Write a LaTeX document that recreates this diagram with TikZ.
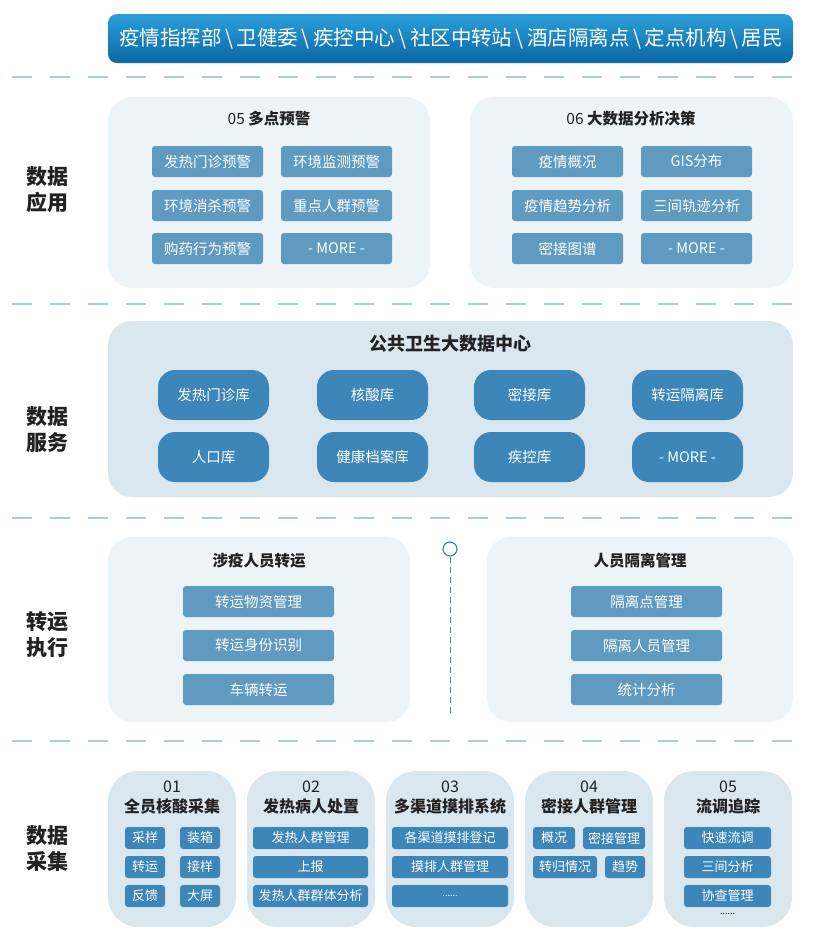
\documentclass[tikz,border=0pt]{standalone}
\usepackage{fontspec}
\setmainfont{Noto Sans CJK SC}
\usetikzlibrary{positioning}
\definecolor{bandtop}{HTML}{2C9FDA}
\definecolor{bandbot}{HTML}{0A67A6}
\definecolor{paneA}{HTML}{EDF4F8}
\definecolor{paneB}{HTML}{DAE7EF}
\definecolor{boxA}{HTML}{5F9BC0}
\definecolor{boxB}{HTML}{3C86BA}
\definecolor{sepline}{HTML}{A9C9E5}
\definecolor{txt}{HTML}{222222}

\begin{document}
\begin{tikzpicture}[x=1pt, y=-1pt,
    panel/.style={fill=#1, draw=none, rounded corners=24pt},
    appbox/.style={fill=boxA, text=white, rounded corners=3pt, minimum width=111pt,
        minimum height=31pt, inner sep=0pt, font=\fontsize{14.5}{16}\selectfont},
    svcbox/.style={fill=boxB, text=white, rounded corners=17pt, minimum width=111pt,
        minimum height=50pt, inner sep=0pt, font=\fontsize{14.5}{16}\selectfont},
    tbox/.style={fill=boxA, text=white, rounded corners=3pt, minimum width=151pt,
        minimum height=31pt, inner sep=0pt, font=\fontsize{14.5}{16}\selectfont},
    cbox/.style={fill=boxB, text=white, rounded corners=3pt, minimum height=22pt,
        inner sep=0pt, font=\fontsize{13}{15}\selectfont},
    ptitle/.style={text=txt, font=\fontsize{15.5}{17}\selectfont},
    side/.style={text=txt, align=center, font=\fontsize{21}{26}\selectfont\bfseries},
    sep/.style={sepline, line width=1.2pt, dash pattern=on 20pt off 18pt}]
    \useasboundingbox (0,0) rectangle (815,948);

    % Top band
    \shade[top color=bandtop, bottom color=bandbot, rounded corners=9pt] (108,14) rectangle (793,63);
    \node[text=white, font=\fontsize{20.5}{22}\selectfont] (users) at (451,38.5)
        {疫情指挥部\,\textbackslash\,卫健委\,\textbackslash\,疾控中心\,\textbackslash\,社区中转站\,\textbackslash\,酒店隔离点\,\textbackslash\,定点机构\,\textbackslash\,居民};

    % Separators
    \foreach \y in {77,304,518,741}
        \draw[sep] (12,\y) -- (793,\y);

    % Side labels
    \node[side] (lapp) at (47,190) {数据\\应用};
    \node[side] (lsvc) at (47,430) {数据\\服务};
    \node[side] (ltra) at (47,635) {转运\\执行};
    \node[side] (lcol) at (47,848) {数据\\采集};

    % Data application
    \fill[panel=paneA] (108,97) rectangle (430,288);
    \fill[panel=paneA] (470,97) rectangle (793,288);
    \node[ptitle] (warn) at (269,119) {05 \textbf{多点预警}};
    \node[ptitle] (bigd) at (631,119) {06 \textbf{大数据分析决策}};
    \node[appbox] (w1) at (207.5,161.5) {发热门诊预警};
    \node[appbox] (w2) at (336.5,161.5) {环境监测预警};
    \node[appbox] (w3) at (207.5,205.5) {环境消杀预警};
    \node[appbox] (w4) at (336.5,205.5) {重点人群预警};
    \node[appbox] (w5) at (207.5,248.5) {购药行为预警};
    \node[appbox] (w6) at (336.5,248.5) {- MORE -};
    \node[appbox] (d1) at (567.5,161.5) {疫情概况};
    \node[appbox] (d2) at (696.5,161.5) {GIS分布};
    \node[appbox] (d3) at (567.5,205.5) {疫情趋势分析};
    \node[appbox] (d4) at (696.5,205.5) {三间轨迹分析};
    \node[appbox] (d5) at (567.5,248.5) {密接图谱};
    \node[appbox] (d6) at (696.5,248.5) {- MORE -};

    % Data service
    \fill[panel=paneB] (108,321) rectangle (793,497);
    \node[ptitle, font=\fontsize{18}{20}\selectfont\bfseries] (center) at (450.5,344) {公共卫生大数据中心};
    \node[svcbox] (s1) at (213.5,395) {发热门诊库};
    \node[svcbox] (s2) at (372.5,395) {核酸库};
    \node[svcbox] (s3) at (529.5,395) {密接库};
    \node[svcbox] (s4) at (687.5,395) {转运隔离库};
    \node[svcbox] (s5) at (213.5,457) {人口库};
    \node[svcbox] (s6) at (372.5,457) {健康档案库};
    \node[svcbox] (s7) at (529.5,457) {疾控库};
    \node[svcbox] (s8) at (687.5,457) {- MORE -};

    % Transport
    \fill[panel=paneA] (108,537) rectangle (410,722);
    \fill[panel=paneA] (487,537) rectangle (793,722);
    \node[ptitle, font=\fontsize{15.5}{17}\selectfont\bfseries] (move) at (259,561) {涉疫人员转运};
    \node[ptitle, font=\fontsize{15.5}{17}\selectfont\bfseries] (iso) at (640,561) {人员隔离管理};
    \node[tbox] (t1) at (258.5,601.5) {转运物资管理};
    \node[tbox] (t2) at (258.5,645.5) {转运身份识别};
    \node[tbox] (t3) at (258.5,689.5) {车辆转运};
    \node[tbox] (i1) at (646.5,601.5) {隔离点管理};
    \node[tbox] (i2) at (646.5,645.5) {隔离人员管理};
    \node[tbox] (i3) at (646.5,689.5) {统计分析};
    \node[circle, draw=boxB, line width=1.2pt, fill=white, minimum size=14pt, inner sep=0pt] (dot) at (450,549) {};
    \coordinate (dotend) at (450,716);
    \draw[boxB, line width=1pt, dash pattern=on 6pt off 4pt] (dot) -- (dotend);

    % Data collection
    \foreach \x in {108,247,386,525,664}
        \fill[panel=paneB, rounded corners=30pt] (\x,771) rectangle ++(128,156);
    \foreach \cx/\n/\t in {172/01/全员核酸采集, 311/02/发热病人处置, 450/03/多渠道摸排系统, 589/04/密接人群管理, 728/05/流调追踪}{
        \node[text=txt, font=\fontsize{16}{17}\selectfont] at (\cx,787) {\n};
        \node[text=txt, font=\fontsize{16}{17}\selectfont\bfseries] at (\cx,806) {\t};
    }
    \node[cbox, minimum width=40pt] (c1) at (145,838) {采样};
    \node[cbox, minimum width=40pt] (c2) at (200,838) {装箱};
    \node[cbox, minimum width=40pt] (c3) at (145,867) {转运};
    \node[cbox, minimum width=40pt] (c4) at (200,867) {接样};
    \node[cbox, minimum width=40pt] (c5) at (145,896) {反馈};
    \node[cbox, minimum width=40pt] (c6) at (200,896) {大屏};
    \node[cbox, minimum width=115pt] (f1) at (310.5,838) {发热人群管理};
    \node[cbox, minimum width=115pt] (f2) at (310.5,867) {上报};
    \node[cbox, minimum width=115pt] (f3) at (310.5,896) {发热人群群体分析};
    \node[cbox, minimum width=116pt] (m1) at (450,838) {各渠道摸排登记};
    \node[cbox, minimum width=116pt] (m2) at (450,867) {摸排人群管理};
    \node[cbox, minimum width=116pt] (m3) at (450,896) {\fontsize{9}{10}\selectfont ......};
    \node[cbox, minimum width=42pt] (k1) at (554,838) {概况};
    \node[cbox, minimum width=62pt] (k2) at (614,838) {密接管理};
    \node[cbox, minimum width=64pt] (k3) at (565,867) {转归情况};
    \node[cbox, minimum width=40pt] (k4) at (625,867) {趋势};
    \node[cbox, minimum width=87pt] (r1) at (727.5,838) {快速流调};
    \node[cbox, minimum width=87pt] (r2) at (727.5,867) {三间分析};
    \node[cbox, minimum width=87pt] (r3) at (727.5,896) {协查管理};
    \node[text=txt, font=\fontsize{9}{10}\selectfont] (rmore) at (727.5,914) {......};
\end{tikzpicture}
\end{document}
